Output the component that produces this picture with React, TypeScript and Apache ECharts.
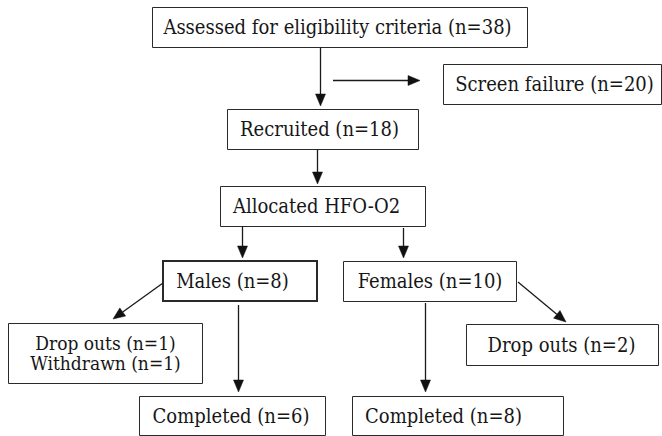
import React, { useEffect, useRef } from "react";
import * as echarts from "echarts";

// ---- Data (flow stages and participant counts) ----
const stageNames: string[][] = [
  ["Assessed for eligibility criteria"],
  ["Screen failure"],
  ["Recruited"],
  ["Allocated HFO-O2"],
  ["Males"],
  ["Females"],
  ["Drop outs", "Withdrawn"],
  ["Completed"],
  ["Drop outs"],
  ["Completed"],
];
const stageCounts: (number | null)[][] = [
  [38],
  [20],
  [18],
  [null],
  [8],
  [10],
  [1, 1],
  [6],
  [2],
  [8],
];

// ---- Layout (box: x, y, w, h; text centre x, y) ----
const boxes: number[][] = [
  [152, 7, 375, 40],
  [443, 64, 218, 40],
  [227, 109, 191, 40],
  [220, 186, 205, 40],
  [163, 261, 154, 40],
  [343, 261, 173, 40],
  [8, 323, 194, 60],
  [139, 396, 186, 39],
  [466, 324, 192, 41],
  [352, 396, 211, 39],
];
const textCenters: number[][] = [
  [337.5, 27],
  [554.5, 84],
  [319.5, 129],
  [316.5, 206],
  [232.5, 281],
  [430, 281],
  [105.5, 353],
  [231, 416],
  [561.5, 345],
  [443.5, 416],
];
const boxLineWidths = [1, 1, 1, 1, 2, 1, 1, 1, 1, 1];

// arrows: x1, y1, x2 (tip), y2 (tip)
const arrows: number[][] = [
  [320, 47, 320, 106],
  [333, 80, 420, 80],
  [317, 149, 317, 184],
  [242, 226, 242, 258],
  [403, 228, 403, 258],
  [163, 283, 113, 319],
  [238, 305, 238, 392],
  [518, 282, 566, 322],
  [425, 303, 425, 392],
];

const FONT = "DejaVu Serif Condensed";
const LINE_GAP = 20;

export default function App() {
  const ref = useRef<HTMLDivElement>(null);
  useEffect(() => {
    document.body.style.margin = "0";
    if (!ref.current) return;
    const chart = echarts.init(ref.current, undefined, { renderer: "svg" });
    const elements: any[] = [];
    boxes.forEach((b, i) => {
      const lw = boxLineWidths[i];
      const off = lw % 2 === 1 ? 0.5 : 0;
      elements.push({
        type: "rect",
        shape: { x: b[0] + off, y: b[1] + off, width: b[2], height: b[3] },
        style: { fill: "#fff", stroke: "#2a2a2a", lineWidth: lw },
      });
      const names = stageNames[i];
      const n = names.length;
      names.forEach((name, j) => {
        const c = stageCounts[i][j];
        const label = c === null ? name : `${name} (n=${c})`;
        elements.push({
          type: "text",
          x: textCenters[i][0],
          y: textCenters[i][1] + (j - (n - 1) / 2) * LINE_GAP,
          style: {
            text: label,
            fontFamily: FONT,
            fontSize: n > 1 ? 19 : 20,
            fill: "#161616",
            align: "center",
            verticalAlign: "middle",
          },
        });
      });
    });
    const L = 12;
    const W = 5;
    arrows.forEach((a) => {
      const [x1, y1, x2, y2] = a;
      const dx = x2 - x1;
      const dy = y2 - y1;
      const len = Math.sqrt(dx * dx + dy * dy);
      const ux = dx / len;
      const uy = dy / len;
      const bx = x2 - ux * L;
      const by = y2 - uy * L;
      const px = -uy;
      const py = ux;
      const vert = Math.abs(dx) < 0.01;
      const horiz = Math.abs(dy) < 0.01;
      const ox = vert ? 0.5 : 0;
      const oy = horiz ? 0.5 : 0;
      elements.push({
        type: "line",
        shape: { x1: x1 + ox, y1: y1 + oy, x2: bx + ox, y2: by + oy },
        style: { stroke: "#1a1a1a", lineWidth: 1.3 },
      });
      elements.push({
        type: "polygon",
        shape: {
          points: [
            [x2 + ox, y2 + oy],
            [bx + px * W + ox, by + py * W + oy],
            [bx - px * W + ox, by - py * W + oy],
          ],
        },
        style: { fill: "#111", stroke: "#111", lineWidth: 0.5 },
      });
    });
    chart.setOption({
      animation: false,
      backgroundColor: "#fff",
      graphic: { elements },
    });
    return () => chart.dispose();
  }, []);
  return <div ref={ref} style={{ width: 662, height: 436 }} />;
}
